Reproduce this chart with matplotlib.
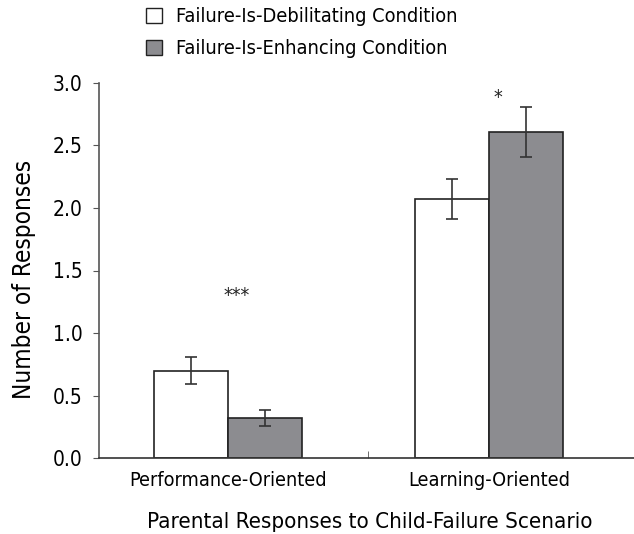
import numpy as np
import matplotlib
matplotlib.use('Agg')
import matplotlib.pyplot as plt
from matplotlib.patches import Patch

# narrow font to get close to the condensed look of the reference
plt.rcParams['font.family'] = ['DejaVu Sans']
plt.rcParams['font.stretch'] = 'condensed'

# data
groups = ['Performance-Oriented', 'Learning-Oriented']
conditions = ['Failure-Is-Debilitating Condition', 'Failure-Is-Enhancing Condition']
debilitating = [0.70, 2.07]
debilitating_err = [0.11, 0.16]
enhancing = [0.32, 2.61]
enhancing_err = [0.065, 0.20]
stars = ['***', '*']
star_y = [1.30, 2.88]

colors = ['white', '#8c8c90']
edge = '#222222'

fig = plt.figure(figsize=(6.34, 5.34), dpi=100)
ax = fig.add_axes([99 / 634, 76 / 534, 1 - 99 / 634 + 0.01, (458 - 83) / 534])

x = np.arange(len(groups))
w = 0.285
ekw = dict(ecolor='#333333', elinewidth=1.2, capsize=4, capthick=1.2)
ax.bar(x - w / 2, debilitating, w, yerr=debilitating_err, color=colors[0],
       edgecolor=edge, linewidth=1.2, error_kw=ekw, label=conditions[0])
ax.bar(x + w / 2, enhancing, w, yerr=enhancing_err, color=colors[1],
       edgecolor=edge, linewidth=1.2, error_kw=ekw, label=conditions[1])

for xi, s, yy in zip(x, stars, star_y):
    ax.text(xi + 0.035, yy, s, ha='center', va='center', fontsize=14, color='#222222')

ax.set_xlim(-0.494, 1.58)
ax.set_ylim(0, 3.0)
ax.set_yticks(np.arange(0, 3.01, 0.5))
ax.set_yticklabels([f'{v:.1f}' for v in np.arange(0, 3.01, 0.5)])
ax.set_xticks(x)
ax.set_xticklabels(groups)
ax.set_xticks([0.536], minor=True)
ax.tick_params(axis='x', which='major', length=0, pad=9, labelsize=14.2)
ax.tick_params(axis='x', which='minor', length=5, direction='in', color='#555555')
ax.tick_params(axis='y', length=4, color='#555555', labelsize=15, pad=8)

for side in ['top', 'right']:
    ax.spines[side].set_visible(False)
ax.spines['left'].set_color('#555555')
ax.spines['bottom'].set_color('#333333')
ax.spines['left'].set_linewidth(1.2)
ax.spines['bottom'].set_linewidth(1.2)

ax.set_ylabel('Number of Responses', fontsize=17.5)
ax.yaxis.set_label_coords(-0.117, 0.475)
ax.set_xlabel('Parental Responses to Child-Failure Scenario', fontsize=16, labelpad=16)

handles = [Patch(facecolor=colors[0], edgecolor=edge, linewidth=1.0, label=conditions[0]),
           Patch(facecolor=colors[1], edgecolor=edge, linewidth=1.0, label=conditions[1])]
fig.legend(handles=handles, loc='upper left', bbox_to_anchor=(128 / 634, 1.02),
           frameon=False, fontsize=14.3, handlelength=0.8, handleheight=0.8,
           handletextpad=0.7, labelspacing=0.65)

plt.savefig('out.png', dpi=100)
plt.close()
